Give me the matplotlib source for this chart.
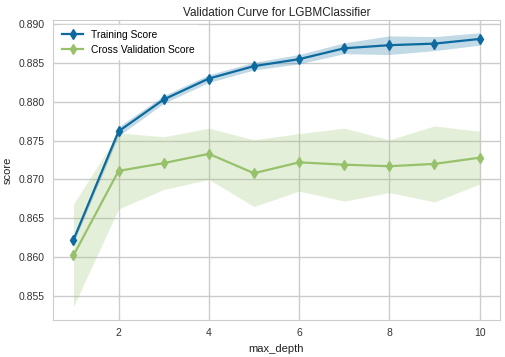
import matplotlib
matplotlib.use("Agg")
import matplotlib.pyplot as plt
import numpy as np

# data
depths = [1, 2, 3, 4, 5, 6, 7, 8, 9, 10]
train_mean = [0.8622, 0.8762, 0.8803, 0.8830, 0.8846, 0.8855, 0.8869, 0.8873, 0.8875, 0.8881]
train_std = [0.0004, 0.0006, 0.0005, 0.0005, 0.0005, 0.0006, 0.0007, 0.0012, 0.0009, 0.0008]
cv_mean = [0.8602, 0.8711, 0.8721, 0.8733, 0.8708, 0.8722, 0.8719, 0.8717, 0.8720, 0.8728]
cv_std = [0.0066, 0.0049, 0.0034, 0.0033, 0.0043, 0.0037, 0.0047, 0.0034, 0.0049, 0.0034]

BLUE = "#0d6a9f"
GREEN = "#97c16a"

plt.rcParams["font.family"] = ["Liberation Sans", "DejaVu Sans"]

fig = plt.figure(figsize=(5.06, 3.57), dpi=100)
ax = fig.add_axes([0.105, 0.104, 0.883, 0.839])

x = np.array(depths)
tm, ts = np.array(train_mean), np.array(train_std)
cm, cs = np.array(cv_mean), np.array(cv_std)

ax.fill_between(x, tm - ts, tm + ts, color=BLUE, alpha=0.25, linewidth=0)
ax.fill_between(x, cm - cs, cm + cs, color=GREEN, alpha=0.25, linewidth=0)
ax.plot(x, tm, marker="d", color=BLUE, lw=1.6, ms=5, label="Training Score")
ax.plot(x, cm, marker="d", color=GREEN, lw=1.6, ms=5, label="Cross Validation Score")

ax.set_ylim(0.8519, 0.8905)
ax.set_xlim(0.55, 10.45)
ax.set_yticks([0.855, 0.860, 0.865, 0.870, 0.875, 0.880, 0.885, 0.890])
ax.yaxis.set_major_formatter(matplotlib.ticker.FormatStrFormatter("%.3f"))
ax.set_xticks([2, 4, 6, 8, 10])

ax.set_facecolor("white")
ax.grid(True, color="#cccccc", lw=1)
ax.set_axisbelow(True)
for s in ax.spines.values():
    s.set_color("#cccccc")
ax.tick_params(length=0, colors="#333333", labelsize=7.5, pad=6)

ax.set_title("Validation Curve for LGBMClassifier", fontsize=8.5, color="#222222", pad=3)
ax.set_xlabel("max_depth", fontsize=8, color="#222222")
ax.set_ylabel("score", fontsize=8, color="#222222")

leg = ax.legend(loc="upper left", frameon=True, fontsize=7.4)
leg.get_frame().set_facecolor("white")
leg.get_frame().set_edgecolor("white")
leg.get_frame().set_alpha(0.8)

fig.savefig("out.png", dpi=100)
